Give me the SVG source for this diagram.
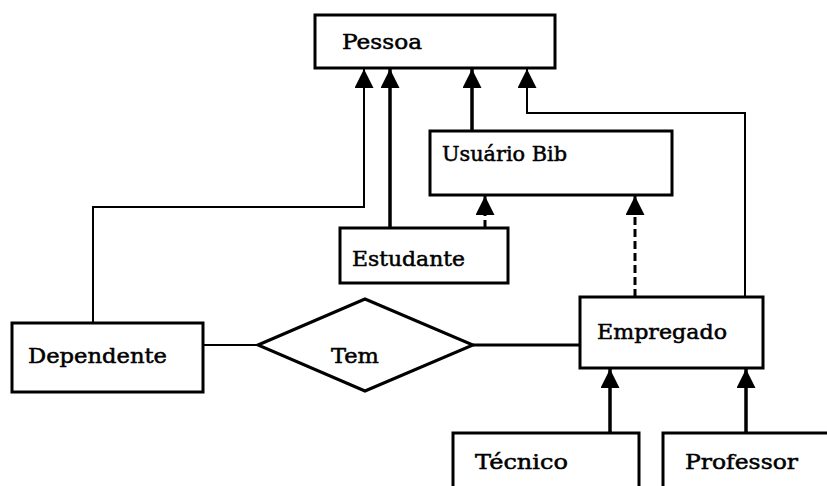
<svg xmlns="http://www.w3.org/2000/svg" width="827" height="486" viewBox="0 0 827 486">
<style>
.box{fill:#fff;stroke:#000;stroke-width:3}
.t{font-family:"DejaVu Serif","Liberation Serif",serif;font-size:20px;fill:#000;stroke:#000;stroke-width:0.5}
.thick{stroke:#000;stroke-width:3.5;fill:none}
.thin{stroke:#000;stroke-width:2;fill:none}
.dash{stroke:#000;stroke-width:3;fill:none;stroke-dasharray:8 4}
</style>
<defs>
<marker id="ah" viewBox="0 0 10 10" refX="10" refY="5" markerWidth="19" markerHeight="19" markerUnits="userSpaceOnUse" orient="auto">
<path d="M0,0 L10,5 L0,10 Z" fill="#000"/>
</marker>
</defs>
<rect width="827" height="486" fill="#fff"/>
<g id="connectors">
<polyline class="thin" points="93,323 93,207 364,207 364,69" marker-end="url(#ah)"/>
<line class="thick" x1="390" y1="228" x2="390" y2="69" marker-end="url(#ah)"/>
<line class="thick" x1="472" y1="131" x2="472" y2="69" marker-end="url(#ah)"/>
<polyline class="thin" points="745,297 745,113 527,113 527,69" marker-end="url(#ah)"/>
<line class="dash" x1="485" y1="228" x2="485" y2="196" marker-end="url(#ah)"/>
<line class="dash" x1="635" y1="297" x2="635" y2="196" marker-end="url(#ah)"/>
<line class="thin" x1="203" y1="345" x2="258" y2="345"/>
<line class="thick" x1="473" y1="345" x2="580" y2="345" style="stroke-width:3"/>
<line class="thick" x1="610" y1="433" x2="610" y2="369" marker-end="url(#ah)"/>
<line class="thick" x1="746" y1="433" x2="746" y2="369" marker-end="url(#ah)"/>
</g>
<g id="pessoa"><rect class="box" x="315" y="15" width="240" height="53"/><text class="t" x="342" y="49" textLength="80" lengthAdjust="spacingAndGlyphs">Pessoa</text></g>
<g id="usuario"><rect class="box" x="430" y="131" width="242" height="64"/><text class="t" x="442" y="161" textLength="125" lengthAdjust="spacingAndGlyphs">Usuário Bib</text></g>
<g id="estudante"><rect class="box" x="340" y="228" width="168" height="55"/><text class="t" x="352" y="266" textLength="113" lengthAdjust="spacingAndGlyphs">Estudante</text></g>
<g id="dependente"><rect class="box" x="12" y="323" width="191" height="69"/><text class="t" x="28" y="363" textLength="139" lengthAdjust="spacingAndGlyphs">Dependente</text></g>
<g id="tem"><polygon points="258,345 365,299 473,345 365,391" fill="#fff" stroke="#000" stroke-width="3"/><text class="t" x="331" y="363" textLength="48" lengthAdjust="spacingAndGlyphs">Tem</text></g>
<g id="empregado"><rect class="box" x="580" y="297" width="183" height="71"/><text class="t" x="597" y="339" textLength="130" lengthAdjust="spacingAndGlyphs">Empregado</text></g>
<g id="tecnico"><rect class="box" x="453" y="433" width="186" height="60"/><text class="t" x="475" y="469" textLength="93" lengthAdjust="spacingAndGlyphs">Técnico</text></g>
<g id="professor"><rect class="box" x="663" y="433" width="170" height="60"/><text class="t" x="685" y="469" textLength="113" lengthAdjust="spacingAndGlyphs">Professor</text></g>
</svg>
